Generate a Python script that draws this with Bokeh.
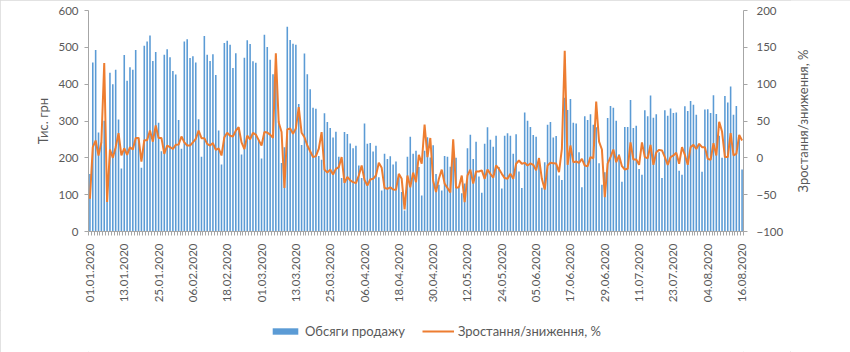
import math
from bokeh.plotting import figure
from bokeh.layouts import row, column
from bokeh.models import Range1d, LinearAxis, FixedTicker, Legend, LegendItem, ColumnDataSource
from bokeh.core.properties import value
from bokeh.embed import file_html
from bokeh.resources import INLINE

# Daily sales volume, thousand UAH (01.01.2020 - 16.08.2020)
sales = [
    156, 459, 493, 269, 242, 301, 90, 431, 400, 439, 304, 171, 479, 409, 446, 439, 493, 255, 173, 504,
    516, 532, 463, 487, 295, 218, 480, 495, 473, 436, 426, 303, 225, 516, 522, 471, 476, 459, 305, 203,
    531, 480, 463, 481, 425, 274, 182, 512, 518, 507, 444, 484, 275, 209, 472, 519, 509, 462, 458, 250,
    198, 534, 501, 466, 427, 440, 300, 186, 229, 556, 520, 510, 507, 346, 235, 483, 427, 386, 336, 333,
    205, 195, 321, 297, 281, 255, 271, 203, 145, 270, 265, 239, 226, 233, 179, 145, 293, 238, 240, 217,
    233, 147, 111, 211, 197, 204, 182, 190, 152, 107, 57, 203, 257, 211, 219, 175, 98, 219, 256, 201,
    234, 156, 127, 111, 205, 203, 176, 215, 200, 119, 104, 130, 226, 263, 197, 244, 149, 105, 238, 283,
    249, 230, 260, 175, 117, 260, 267, 260, 211, 264, 163, 118, 323, 301, 284, 262, 257, 200, 119, 188,
    290, 297, 255, 259, 152, 140, 363, 330, 360, 295, 293, 215, 120, 313, 303, 318, 290, 283, 185, 127,
    161, 308, 341, 336, 301, 210, 135, 284, 284, 357, 281, 287, 170, 154, 329, 313, 369, 309, 318, 215,
    145, 329, 314, 334, 322, 323, 165, 154, 340, 327, 354, 344, 317, 235, 162, 331, 332, 322, 370, 319,
    260, 200, 368, 350, 394, 317, 341, 260, 168,
]

# Growth / decline, %
growth = [
    -55.6, 14.5, 23.5, 3.2, 21, 128.7, -60, 11.3, 0, 14.5, 33.4, 3.2, 13, 4, 14.5, 11.3, 27, 27, -5, 24,
    24, 37, 22, 44, 27, 27, 5.4, 16.7, 14.5, 12, 17.6, 18, 29, 21, 16.7, 16.7, 21, 25.7, 37, 26.7,
    26.7, 19, 16.7, 20, 10.8, 13, 3.2, 28, 34, 30, 29, 37, 41.5, 21, 12, 30, 25, 34, 31.6, 24,
    16.7, 35, 34.3, 31.6, 27, 141.8, 48, 35, -41, 38.4, 40, 32.5, 40, 68.7, 34, 28, 16.7, 9, 1, 2.3,
    12, 35, -16, -20, -16, -22.6, -15, -12.6, 1, -34, -26, -30.7, -33, -34.3, -24, -10.4, -30, -37.5, -29.4, -28.5,
    -24, -6.8, -13.5, -41, -42, -40, -43, -43.4, -21.7, -28.5, -70, -24, -40, -20, -33, 4, -8, 45, 1, 27,
    -31, -46.5, -28.5, -16, -35, -41, -47, 25, -40.7, -40, -24, -60, -24, -16, -35, -18.5, -18.5, -17, -28.5, -16,
    -21.7, -27, -10.4, -15, -21.7, -27.5, -28.5, -21.7, -28.5, -8, -3.6, -8, -6.8, -10.4, -7.7, -9.5, -17, -0.5, -28.5, -43,
    -10.4, -6.8, -7.2, -7.7, -19.4, 12, 145.4, -9.5, 16.7, -5.9, -5, -6.8, -1.4, -10.4, -11.3, 1, -0.5, 76.3, 22, 11.3,
    -53.3, -8, 1, 11.3, -5.9, 3.2, -11.3, -15.8, -14.9, 21, -2.3, -2.3, -9.5, 21, 1, -0.5, 17.6, -9.5, 7.7, 10.8,
    10, 1, -9.5, 1, 3.2, 6.8, -8, 14.5, 4, -9.5, 14.5, 17.6, 12, 19, 14.5, 14.5, -1.4, -2.7, 19.9, 3.2,
    49, 35.7, 1, 1, 33.4, 3.2, 5.4, 31, 23.5,
]

tick_labels = [
    "01.01.2020", "13.01.2020", "25.01.2020", "06.02.2020", "18.02.2020", "01.03.2020", "13.03.2020",
    "25.03.2020", "06.04.2020", "18.04.2020", "30.04.2020", "12.05.2020", "24.05.2020", "05.06.2020",
    "17.06.2020", "29.06.2020", "11.07.2020", "23.07.2020", "04.08.2020", "16.08.2020",
]
label_step = 12
left_ticks = [0, 100, 200, 300, 400, 500, 600]
right_ticks = [-100, -50, 0, 50, 100, 150, 200]
left_title = "Тис. грн"
right_title = "Зростання/зниження, %"
series_names = ["Обсяги продажу", "Зростання/зниження, %"]

n = len(sales)
idx = list(range(n))
src = ColumnDataSource(dict(i=idx, sales=sales, growth=growth))

TEXT = "#595959"
AXIS = "#a6a6a6"
FONT = "Lato"
BAR_C = "#5B9BD5"
LINE_C = "#ED7D31"
W_MAIN, W_SIDE, H_MAIN, H_LEG = 790, 60, 310, 42
H = H_MAIN + H_LEG


def bare(fig):
    fig.xgrid.visible = False
    fig.ygrid.visible = False
    fig.outline_line_color = None


p = figure(width=W_MAIN, height=H_MAIN, output_backend="svg", toolbar_location=None,
           x_range=Range1d(-0.5, n - 0.5), y_range=Range1d(left_ticks[0], left_ticks[-1]),
           min_border_left=88, min_border_right=47, min_border_top=10, min_border_bottom=79,
           background_fill_color="white", border_fill_color="white")
p.extra_y_ranges = {"right": Range1d(right_ticks[0], right_ticks[-1])}
bare(p)

bars = p.vbar(x="i", top="sales", width=0.55, source=src, fill_color=BAR_C, line_color=None)
line = p.line(x="i", y="growth", source=src, y_range_name="right", line_color=LINE_C, line_width=2)

# x axis
xa = p.xaxis[0]
major = [k * label_step for k in range(len(tick_labels))]
xa.ticker = FixedTicker(ticks=major, minor_ticks=[k - 0.5 for k in range(n + 1)])
xa.major_label_overrides = {m: lbl for m, lbl in zip(major, tick_labels)}
xa.major_label_orientation = math.pi / 2
xa.major_tick_out = 0
xa.major_tick_in = 0
xa.minor_tick_out = 4
xa.minor_tick_in = 0
xa.major_label_standoff = 8
xa.axis_line_color = AXIS
xa.minor_tick_line_color = AXIS
xa.major_label_text_font = FONT
xa.major_label_text_font_size = "11.5px"
xa.major_label_text_color = TEXT

# left axis
ya = p.yaxis[0]
ya.ticker = FixedTicker(ticks=left_ticks)
ya.minor_tick_line_color = None
ya.major_tick_out = 4
ya.major_tick_in = 0
ya.major_label_standoff = 6
ya.axis_line_color = AXIS
ya.major_tick_line_color = AXIS
ya.major_label_text_font = FONT
ya.major_label_text_font_size = "11.5px"
ya.major_label_text_color = TEXT
ya.axis_label = left_title
ya.axis_label_text_font = FONT
ya.axis_label_text_font_size = "13px"
ya.axis_label_text_font_style = "normal"
ya.axis_label_text_color = TEXT
ya.axis_label_standoff = 4

# right axis
ra = LinearAxis(y_range_name="right", ticker=FixedTicker(ticks=right_ticks))
ra.minor_tick_line_color = None
ra.major_tick_out = 4
ra.major_tick_in = 0
ra.major_label_standoff = 9
ra.axis_line_color = AXIS
ra.major_tick_line_color = AXIS
ra.major_label_text_font = FONT
ra.major_label_text_font_size = "11.5px"
ra.major_label_text_color = TEXT
p.add_layout(ra, "right")

# legend strip below the chart (swatch renderers sit outside its visible range)
leg = figure(width=W_MAIN, height=H_LEG, output_backend="svg", toolbar_location=None,
             x_range=Range1d(0, 1), y_range=Range1d(0, 1),
             x_axis_type=None, y_axis_type=None, min_border=0,
             background_fill_color="white", border_fill_color="white")
bare(leg)
sw_bar = leg.vbar(x=[-5], top=[-5], width=0.5, fill_color=BAR_C, line_color=None)
sw_line = leg.line(x=[-5, -4], y=[-5, -5], line_color=LINE_C, line_width=2)
legend = Legend(items=[LegendItem(label=series_names[0], renderers=[sw_bar]),
                       LegendItem(label=series_names[1], renderers=[sw_line])],
                orientation="horizontal", location=(181, 13),
                padding=0, margin=0, spacing=17, label_standoff=4,
                glyph_width=32, glyph_height=8, label_height=16,
                border_line_color=None, background_fill_alpha=0,
                label_text_font=FONT, label_text_font_size="13px", label_text_color=TEXT)
leg.add_layout(legend, "center")

# side strip holding the right axis title (reads bottom-to-top)
t = figure(width=W_SIDE, height=H, output_backend="svg", toolbar_location=None,
           x_range=Range1d(0, W_SIDE), y_range=Range1d(0, H),
           x_axis_type=None, y_axis_type=None, min_border=0,
           background_fill_color="white", border_fill_color="white")
bare(t)
t.text(x=[12], y=[H - 120.5], text=[right_title], angle=math.pi / 2,
       text_align="center", text_baseline="middle", text_font=value(FONT),
       text_font_size="13px", text_color=TEXT)

layout = row(column(p, leg, spacing=0), t, spacing=0)
layout.styles = {"outline": "1px solid #d9d9d9", "outline-offset": "-1px"}

open("out.html", "w").write(file_html(layout, INLINE))
